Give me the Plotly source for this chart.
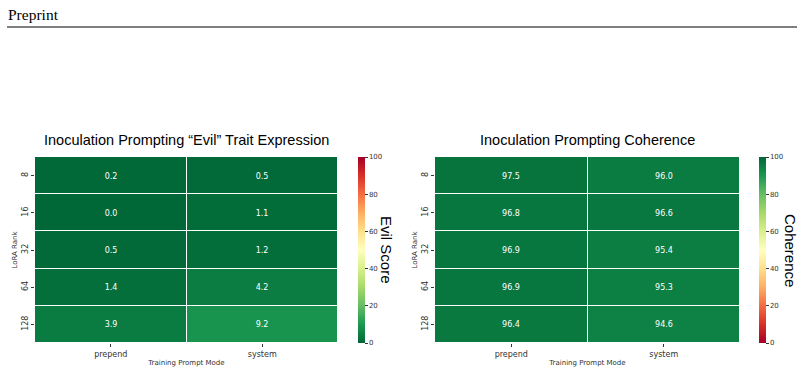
import plotly.graph_objects as go

ranks = ["8", "16", "32", "64", "128"]
modes = ["prepend", "system"]
evil_prepend = [0.2, 0.0, 0.5, 1.4, 3.9]
evil_system = [0.5, 1.1, 1.2, 4.2, 9.2]
coh_prepend = [97.5, 96.8, 96.9, 96.9, 96.4]
coh_system = [96.0, 96.6, 95.4, 95.3, 94.6]

rdylgn = ["#a50026", "#d73027", "#f46d43", "#fdae61", "#fee08b", "#ffffbf",
          "#d9ef8b", "#a6d96a", "#66bd63", "#1a9850", "#006837"]
n = len(rdylgn)
scale = [[i / (n - 1), c] for i, c in enumerate(rdylgn)]
scale_r = [[i / (n - 1), c] for i, c in enumerate(rdylgn[::-1])]

evil_z = [[p, s] for p, s in zip(evil_prepend, evil_system)]
coh_z = [[p, s] for p, s in zip(coh_prepend, coh_system)]

W, H = 804, 372
def px(x): return x / W
def py(y): return 1 - y / H

tickfont = dict(family="DejaVu Sans", size=8, color="#333333")
cb_common = dict(thickness=7, len=186 / H, lenmode="fraction", y=py(250), yanchor="middle",
                 xanchor="left", xpad=0, ypad=0, outlinewidth=0, ticks="outside", ticklen=3, tickwidth=0.6,
                 tickcolor="#333", tickfont=dict(family="DejaVu Sans", size=7, color="#333"),
                 tickvals=[0, 20, 40, 60, 80, 100])

fig = go.Figure()
fig.add_trace(go.Heatmap(
    z=evil_z, x=modes, y=ranks, zmin=0, zmax=100, colorscale=scale_r,
    xgap=1, ygap=1, texttemplate="%{z:.1f}",
    textfont=dict(family="DejaVu Sans", size=8, color="white"),
    colorbar=dict(x=px(358), **cb_common), xaxis="x", yaxis="y", hoverinfo="skip"))
fig.add_trace(go.Heatmap(
    z=coh_z, x=modes, y=ranks, zmin=0, zmax=100, colorscale=scale,
    xgap=1, ygap=1, texttemplate="%{z:.1f}",
    textfont=dict(family="DejaVu Sans", size=8, color="white"),
    colorbar=dict(x=px(759), **cb_common), xaxis="x2", yaxis="y2", hoverinfo="skip"))

axx = dict(type="category", showgrid=False, zeroline=False, ticks="outside", ticklen=3,
           tickcolor="#333", tickwidth=0.6, tickfont=tickfont, showline=False,
           title=dict(text="Training Prompt Mode", font=dict(family="DejaVu Sans", size=7, color="#333"), standoff=2))
axy = dict(type="category", showgrid=False, zeroline=False, ticks="outside", ticklen=3,
           tickcolor="#333", tickwidth=0.6, tickfont=tickfont, tickangle=-90, autorange="reversed",
           title=dict(text="LoRA Rank", font=dict(family="DejaVu Sans", size=7, color="#333"), standoff=2))

fig.update_layout(
    width=W, height=H, margin=dict(l=0, r=0, t=0, b=0),
    paper_bgcolor="white", plot_bgcolor="white",
    xaxis=dict(domain=[px(35), px(338)], anchor="y", **axx),
    yaxis=dict(domain=[py(343), py(157)], anchor="x", **axy),
    xaxis2=dict(domain=[px(435), px(740)], anchor="y2", **axx),
    yaxis2=dict(domain=[py(343), py(157)], anchor="x2", **axy),
    showlegend=False,
)

title_font = dict(family="Liberation Sans, Arial", size=14.5, color="black")
fig.add_annotation(text="Inoculation Prompting “Evil” Trait Expression", x=px(186), y=py(140),
                   xref="paper", yref="paper", showarrow=False, font=title_font,
                   xanchor="center", yanchor="middle")
fig.add_annotation(text="Inoculation Prompting Coherence", x=px(587), y=py(140),
                   xref="paper", yref="paper", showarrow=False, font=title_font,
                   xanchor="center", yanchor="middle")
cbt_font = dict(family="Liberation Sans, Arial", size=15, color="black")
fig.add_annotation(text="Evil Score", x=px(386), y=py(250), xref="paper", yref="paper",
                   showarrow=False, textangle=90, font=cbt_font, xanchor="center", yanchor="middle")
fig.add_annotation(text="Coherence", x=px(790), y=py(250), xref="paper", yref="paper",
                   showarrow=False, textangle=90, font=cbt_font, xanchor="center", yanchor="middle")

fig.add_annotation(text="Preprint", x=px(6), y=py(15), xref="paper", yref="paper",
                   showarrow=False, font=dict(family="Liberation Serif, Times New Roman", size=15.5, color="black"),
                   xanchor="left", yanchor="middle")
fig.add_shape(type="line", xref="paper", yref="paper", x0=px(7), x1=px(797), y0=py(27), y1=py(27),
              line=dict(color="black", width=1))

fig.write_html("out.html")
